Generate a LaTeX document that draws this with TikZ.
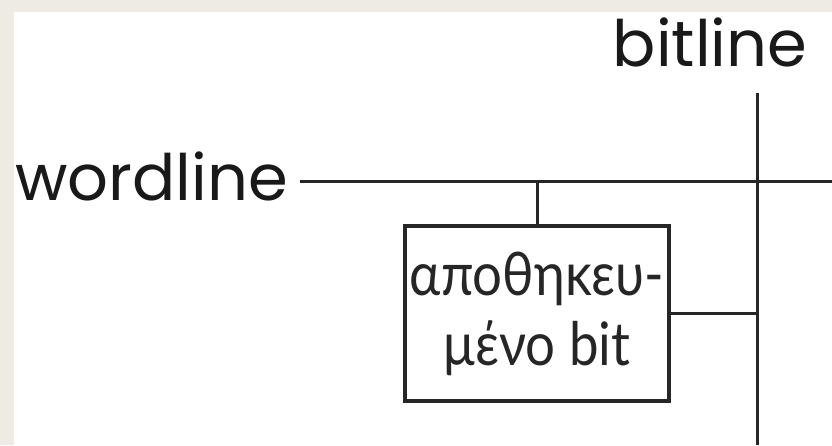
\documentclass[tikz,border=0pt]{standalone}
\usepackage{fontspec}
\setmainfont{Poppins}
\newfontfamily\greekfont{Lato}
\definecolor{frame}{HTML}{EEEBE4}
\tikzset{
  wire/.style={line width=3pt, draw=black!85},
  lbl/.style={inner sep=0pt, font=\fontsize{64}{68}\selectfont, text=black!90},
  cell/.style={draw=black!85, line width=3.5pt, minimum width=264pt, minimum height=175pt, inner sep=0pt, align=center, font=\greekfont\fontsize{60}{70}\selectfont, text=black!85}
}
\begin{document}
\begin{tikzpicture}[x=1pt,y=-1pt]
\useasboundingbox (0,0) rectangle (832,445);
\fill[frame] (0,0) rectangle (832,445);
\fill[white] (14,12) rectangle (832,445);
\node[lbl, anchor=base west] (wl) at (15,200) {wordline};
\node[lbl, anchor=base] (bl) at (710,66) {bitline};
\node[cell] (cell) at (537,313.5) {\scalebox{0.88}[1]{αποθηκευ-}\\\scalebox{0.88}[1]{μένο bit}};
\coordinate (wlend) at (832,181);
\coordinate (bltop) at (757,93);
\coordinate (blbot) at (757,445);
\coordinate (wlstart) at (300,181);
\coordinate (tap) at (537,181);
\coordinate (btap) at (757,313);
\draw[wire] (wlstart) -- (wlend);
\draw[wire] (bltop) -- (blbot);
\draw[wire] (tap) -- (cell.north);
\draw[wire] (cell.east |- btap) -- (btap);
\end{tikzpicture}
\end{document}
